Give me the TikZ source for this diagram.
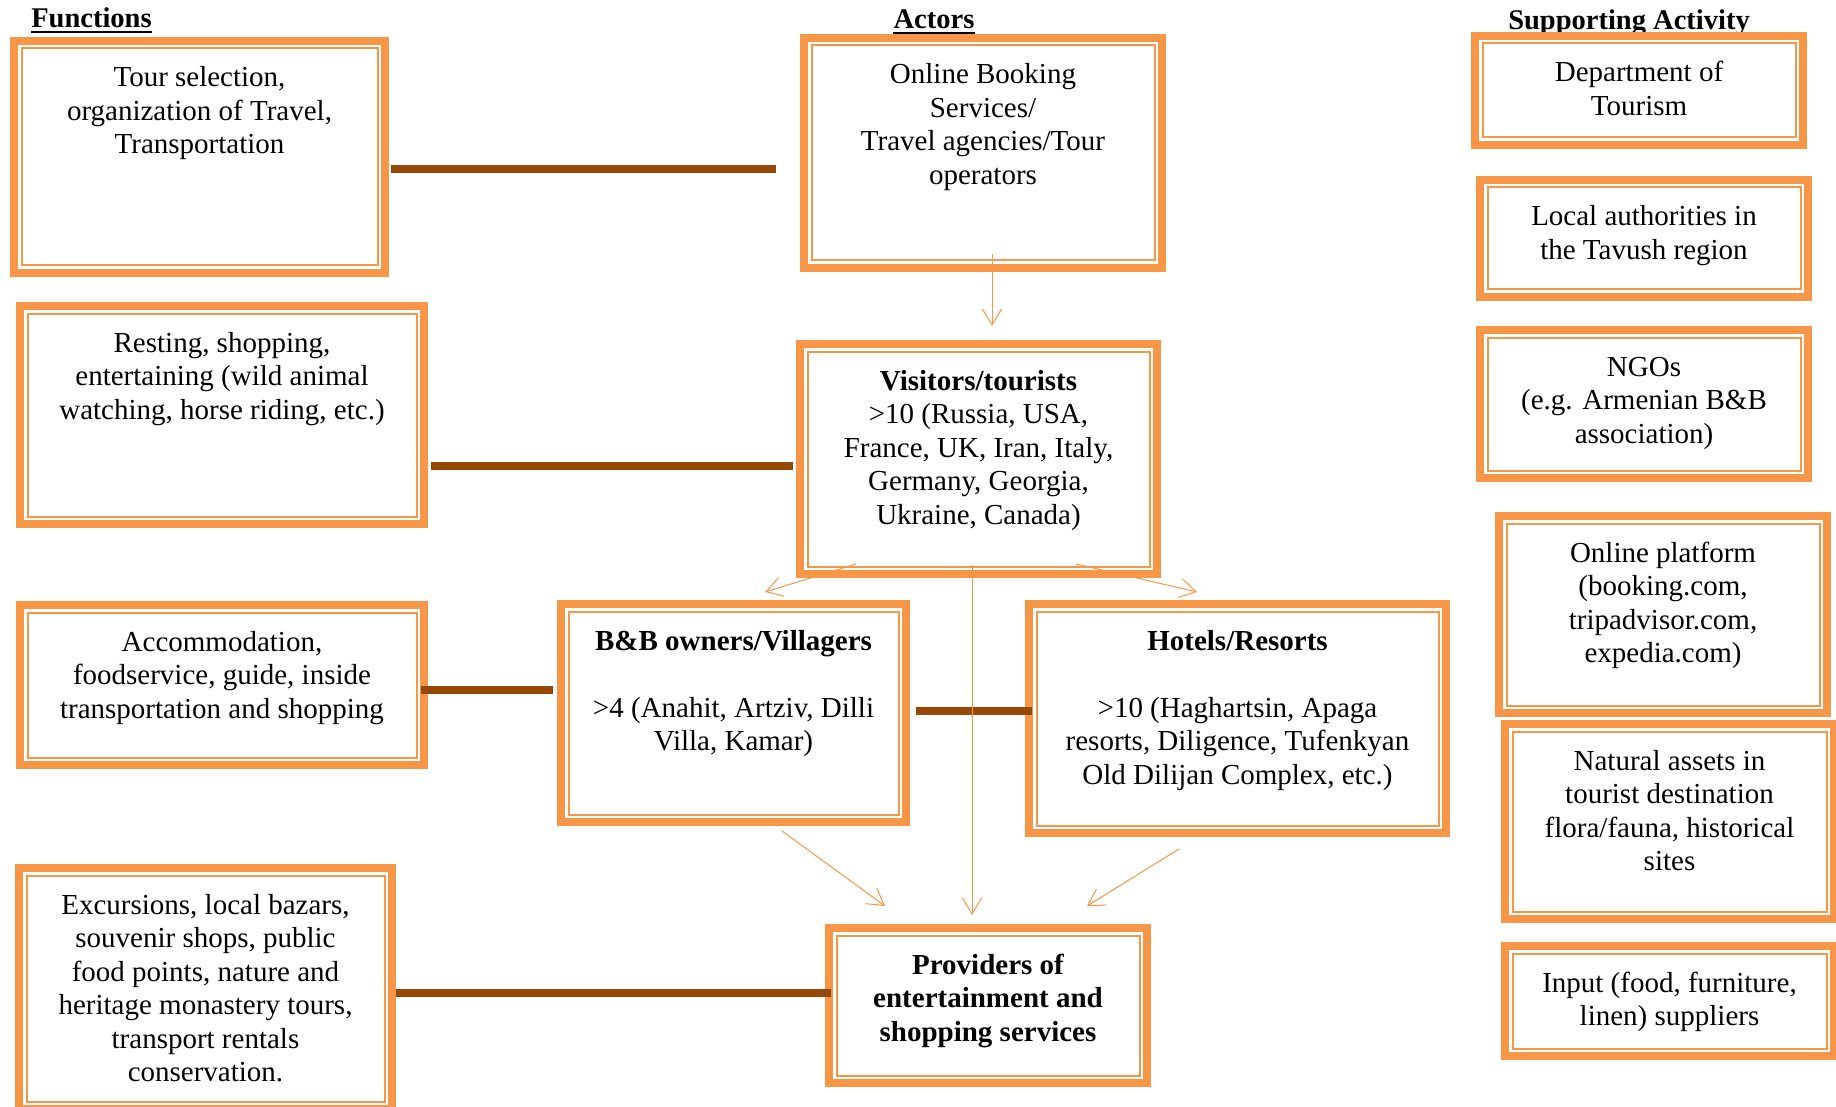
\documentclass[tikz,border=0pt]{standalone}
\usepackage{fontspec}
\setmainfont{Liberation Serif}
\usetikzlibrary{calc,arrows.meta}

\definecolor{boxorange}{HTML}{F79646}
\definecolor{linkbrown}{HTML}{984806}

% framed text panel: name, left, top, right, bottom (outer edge), text
\newcommand\panelbox[6]{%
  \node[frame] (#1) at ({#2+4},{#3+4})
    {\parbox[c][\dimexpr #5pt-#3pt-8pt\relax][t]{\dimexpr #4pt-#2pt-8pt\relax}%
      {\centering\vspace*{22.55pt}\strut #6}};}

\tikzset{
  frame/.style={rectangle, draw=boxorange, line width=8pt, fill=white,
    inner sep=0pt, outer sep=0pt, anchor=north west,
    font=\fontsize{29pt}{33.5pt}\selectfont,
    path picture={\draw[boxorange, line width=2pt]
      ([shift={(7.5pt,7.5pt)}]path picture bounding box.south west) rectangle
      ([shift={(-7.5pt,-7.5pt)}]path picture bounding box.north east);}},
  heading/.style={inner sep=0pt, anchor=base, font=\fontsize{28.5pt}{30pt}\selectfont\bfseries},
  uline/.style={draw=black, line width=2pt},
  link/.style={draw=linkbrown, line width=8pt},
  flow/.style={draw=boxorange, line width=1pt, -{Straight Barb[length=16pt,width=19pt]}},
}

\begin{document}
\begin{tikzpicture}[x=1pt,y=-1pt]
\useasboundingbox (0,0) rectangle (1836,1107);
\fill[white] (0,0) rectangle (1836,1107);

% column headings
\node[heading] (hf) at (91.5,28) {Functions};
\node[heading] (ha) at (934,29) {Actors};
\node[heading] (hs) at (1629,30) {Supporting Activity};
\foreach \h in {hf,ha,hs}
  \draw[uline] ($(\h.base west)+(0,3.7)$) -- ($(\h.base east)+(0,3.7)$);

% functions
\panelbox{fn1}{10}{37}{389}{277}{Tour selection,\\organization of Travel,\\Transportation}
\panelbox{fn2}{16}{302}{428}{528}{Resting, shopping,\\entertaining (wild animal\\watching, horse riding, etc.)}
\panelbox{fn3}{16}{601}{428}{769}{Accommodation,\\foodservice, guide, inside\\transportation and shopping}
\panelbox{fn4}{15}{864}{396}{1113}{Excursions, local bazars,\\souvenir shops, public\\food points, nature and\\heritage monastery tours,\\transport rentals\\conservation.}

% actors
\panelbox{a1}{800}{34}{1166}{272}{Online Booking\\Services/\\Travel agencies/Tour\\operators}
\panelbox{a2}{796}{340}{1161}{578}{\textbf{Visitors/tourists}\\>10 (Russia, USA,\\France, UK, Iran, Italy,\\Germany, Georgia,\\Ukraine, Canada)}
\panelbox{a3}{557}{600}{910}{826}{\textbf{B\&B owners/Villagers}\\[33.5pt]>4 (Anahit, Artziv, Dilli\\Villa, Kamar)}
\panelbox{a4}{1025}{600}{1450}{837}{\textbf{Hotels/Resorts}\\[33.5pt]>10 (Haghartsin, Apaga\\resorts, Diligence, Tufenkyan\\Old Dilijan Complex, etc.)}
\panelbox{a5}{825}{924}{1151}{1087}{\bfseries Providers of\\entertainment and\\shopping services}

% supporting activities
\panelbox{s1}{1471}{32}{1807}{149}{Department of\\Tourism}
\panelbox{s2}{1476}{176}{1812}{301}{Local authorities in\\the Tavush region}
\panelbox{s3}{1476}{326}{1812}{482}{NGOs\\(e.g. Armenian B\&B\\association)}
\panelbox{s4}{1495}{512}{1831}{717}{Online platform\\(booking.com,\\tripadvisor.com,\\expedia.com)}
\panelbox{s5}{1501}{720}{1838}{923}{Natural assets in\\tourist destination\\flora/fauna, historical\\sites}
\panelbox{s6}{1501}{942}{1838}{1060}{Input (food, furniture,\\linen) suppliers}

% function-to-actor links
\draw[link] ($(fn1.east)+(6,12)$) -- ($(a1.west)+(-28,16)$);
\draw[link] ($(fn2.east)+(7,51)$) -- ($(a2.west)+(-7,7)$);
\draw[link] ($(fn3.east)+(-3,5)$) -- ($(a3.west)+(-8,-23)$);
\draw[link] ($(a3.east)+(10,-2)$) -- ($(a4.west)+(3,-7.5)$);
\draw[link] ($(fn4.east)+(4,4.5)$) -- ($(a5.west)+(2,-12.5)$);

% flows between actors
\draw[flow] ($(a1.south)+(9,-14)$) -- ($(a2.north)+(13.5,-18)$);
\draw[flow] ($(a2.south)+(-122.5,-10)$) -- ($(a3.north)+(31.5,-12)$);
\draw[flow] ($(a2.south)+(97.5,-10)$) -- ($(a4.north)+(-40.5,-12)$);
\draw[flow] ($(a2.south)+(-6.5,-9)$) -- ($(a5.north)+(-16,-13)$);
\draw[flow] ($(a3.south)+(48.5,9)$) -- ($(a5.north)+(-103,-22)$);
\draw[flow] ($(a4.south)+(-58.5,16)$) -- ($(a5.north)+(99,-22)$);
\end{tikzpicture}
\end{document}
